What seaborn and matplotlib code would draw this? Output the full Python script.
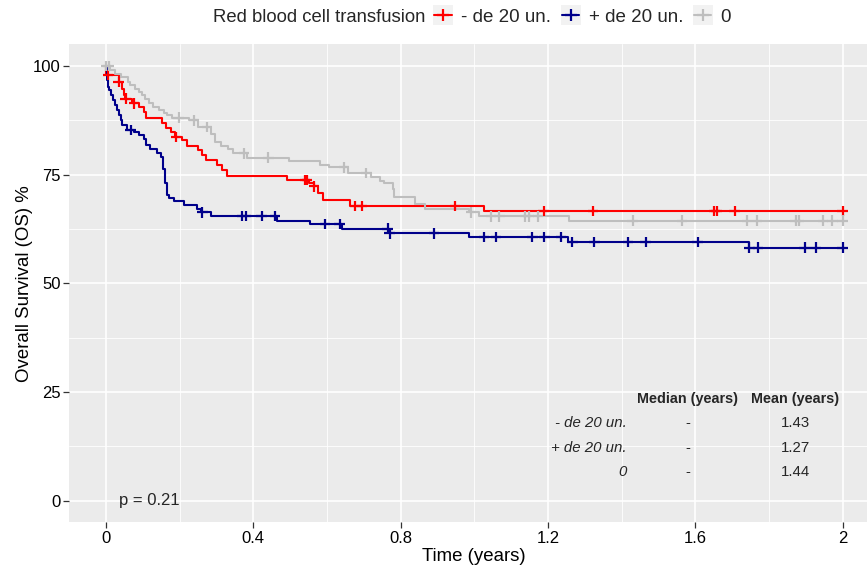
import numpy as np
import pandas as pd
import matplotlib
matplotlib.use("Agg")
import matplotlib.pyplot as plt
import seaborn as sns
from matplotlib.lines import Line2D
from matplotlib.patches import Rectangle
from matplotlib.legend_handler import HandlerBase

# ---------------- data ----------------
groups = ["- de 20 un.", "+ de 20 un.", "0"]
colors = ["#FF0000", "#00008B", "#BEBEBE"]

less_times = [0, 0.001, 0.035, 0.044, 0.049, 0.053, 0.071, 0.090, 0.103, 0.110,
              0.153, 0.162, 0.177, 0.187, 0.207, 0.221, 0.251, 0.262, 0.271, 0.302,
              0.316, 0.330, 0.493, 0.552, 0.565, 0.576, 0.590, 0.663, 1.027]
less_surv = [100, 97.9, 96.3, 94.8, 93.3, 92.5, 91.4, 90.6, 89.4, 88.1,
             86.9, 85.8, 84.8, 83.7, 82.9, 81.5, 80.6, 79.5, 78.3, 77.2,
             76.0, 74.8, 73.8, 73.0, 72.3, 70.7, 69.1, 67.8, 66.6]
less_censor = [0.006, 0.035, 0.054, 0.076, 0.190, 0.541, 0.546, 0.565, 0.677, 0.695,
               0.948, 1.188, 1.322, 1.652, 1.658, 1.707, 2.0]

more_times = [0, 0.002, 0.003, 0.005, 0.008, 0.014, 0.019, 0.024, 0.029, 0.035,
              0.040, 0.044, 0.058, 0.077, 0.090, 0.103, 0.108, 0.121, 0.138, 0.149,
              0.156, 0.160, 0.165, 0.171, 0.185, 0.212, 0.248, 0.258, 0.285, 0.465,
              0.554, 0.640, 0.768, 0.985, 1.254, 1.747]
more_surv = [100, 98.2, 96.7, 95.2, 94.4, 93.3, 92.1, 91.0, 89.8, 88.7,
             87.5, 86.4, 85.3, 84.8, 84.1, 83.1, 81.8, 80.8, 79.9, 79.1,
             76.4, 73.0, 70.3, 69.7, 68.9, 68.0, 67.2, 66.3, 65.5, 64.4,
             63.6, 62.6, 61.5, 60.7, 59.5, 58.2]
more_censor = [0.067, 0.262, 0.370, 0.380, 0.423, 0.459, 0.595, 0.635, 0.765, 0.770,
               0.891, 1.027, 1.059, 1.158, 1.190, 1.236, 1.266, 1.326, 1.417, 1.465,
               1.606, 1.747, 1.770, 1.897, 1.927, 2.0]

zero_times = [0, 0.012, 0.024, 0.040, 0.059, 0.066, 0.079, 0.090, 0.099, 0.105,
              0.118, 0.129, 0.145, 0.158, 0.167, 0.180, 0.226, 0.249, 0.285, 0.296,
              0.313, 0.332, 0.346, 0.384, 0.498, 0.582, 0.607, 0.656, 0.720, 0.743,
              0.756, 0.779, 0.783, 0.838, 0.865, 0.987, 1.014, 1.257]
zero_surv = [100, 99.0, 98.2, 97.5, 96.3, 95.6, 94.8, 94.0, 93.3, 92.5,
             91.4, 90.6, 89.8, 89.1, 88.7, 88.1, 87.5, 86.0, 84.4, 82.5,
             81.6, 80.9, 79.9, 78.9, 78.1, 77.3, 76.7, 75.4, 74.4, 73.5,
             73.0, 71.8, 69.9, 68.3, 67.2, 66.3, 65.4, 64.4]
zero_censor = [0.0, 0.008, 0.198, 0.239, 0.275, 0.375, 0.441, 0.647, 0.707, 0.991,
               1.045, 1.068, 1.139, 1.148, 1.173, 1.430, 1.564, 1.740, 1.767, 1.872,
               1.881, 1.947, 1.972, 2.0]

table_groups = ["- de 20 un.", "+ de 20 un.", "0"]
table_median = ["-", "-", "-"]
table_mean = ["1.43", "1.27", "1.44"]
p_value_text = "p = 0.21"

x_ticks = [0, 0.4, 0.8, 1.2, 1.6, 2]
x_ticklabels = ["0", "0.4", "0.8", "1.2", "1.6", "2"]
y_ticks = [0, 25, 50, 75, 100]

# ---------------- build tables ----------------
series = [(less_times, less_surv, less_censor),
          (more_times, more_surv, more_censor),
          (zero_times, zero_surv, zero_censor)]
curve_rows, cens_rows = [], []
for g, (t, s, c) in zip(groups, series):
    t = np.asarray(t, float); s = np.asarray(s, float)
    tend = max(t[-1], max(c))
    tt = np.append(t, tend); ss = np.append(s, s[-1])
    for a, b in zip(tt, ss):
        curve_rows.append((g, a, b))
    for ct in c:
        idx = np.searchsorted(t, ct, side="right") - 1
        cens_rows.append((g, ct, s[idx]))
curves = pd.DataFrame(curve_rows, columns=["group", "time", "surv"])
cens = pd.DataFrame(cens_rows, columns=["group", "time", "surv"])

# ---------------- style ----------------
sns.set_theme(style="darkgrid", rc={
    "axes.facecolor": "#EBEBEB",
    "grid.color": "white",
    "xtick.bottom": True, "ytick.left": True,
    "xtick.color": "#333333", "ytick.color": "#333333",
    "xtick.major.size": 4, "ytick.major.size": 4,
    "xtick.major.width": 0.9, "ytick.major.width": 0.9,
    "axes.labelcolor": "black",
})
plt.rcParams["font.family"] = ["Liberation Sans", "DejaVu Sans"]

fig = plt.figure(figsize=(8.67, 5.70), dpi=100)
ax = fig.add_axes([69 / 867, 47.7 / 570, 810.5 / 867, 478 / 570])

palette = dict(zip(groups, colors))
sns.lineplot(data=curves, x="time", y="surv", hue="group", hue_order=groups,
             palette=palette, drawstyle="steps-post", estimator=None,
             lw=1.5, ax=ax, legend=False)
sns.scatterplot(data=cens, x="time", y="surv", hue="group", hue_order=groups,
                palette=palette, marker="+", s=58, linewidth=1.6,
                ax=ax, legend=False, zorder=3)

ax.set_xlim(-0.1, 2.1)
ax.set_ylim(-5, 105)
ax.set_xticks(x_ticks)
ax.set_xticklabels(x_ticklabels)
ax.set_yticks(y_ticks)
ax.set_xticks([0.2, 0.6, 1.0, 1.4, 1.8], minor=True)
ax.set_yticks([12.5, 37.5, 62.5, 87.5], minor=True)
ax.grid(which="major", color="white", lw=1.2)
ax.grid(which="minor", color="white", lw=0.6)
ax.tick_params(which="minor", length=0)
ax.tick_params(which="major", labelsize=12, labelcolor="black", pad=2)
for sp in ax.spines.values():
    sp.set_visible(False)
ax.set_xlabel("Time (years)", fontsize=13.4, labelpad=2)
ax.set_ylabel("Overall Survival (OS) %", fontsize=13.4, labelpad=0)

ax.text(0.036, 0, p_value_text, fontsize=12, va="center", ha="left")

# table
hdr_y, row_ys = 23.4, [17.9, 12.1, 6.6]
ax.text(1.580, hdr_y, "Median (years)", fontsize=10.4, fontweight="bold",
        ha="center", va="center")
ax.text(1.871, hdr_y, "Mean (years)", fontsize=10.4, fontweight="bold",
        ha="center", va="center")
for g, md, mn, yy in zip(table_groups, table_median, table_mean, row_ys):
    ax.text(1.414, yy, g, fontsize=10.8, style="italic", ha="right", va="center")
    ax.text(1.580, yy, md, fontsize=10.8, ha="center", va="center")
    ax.text(1.871, yy, mn, fontsize=10.8, ha="center", va="center")


# legend
class KeyHandler(HandlerBase):
    def create_artists(self, legend, orig_handle, xdescent, ydescent,
                       width, height, fontsize, trans):
        x0, y0 = -xdescent, -ydescent
        yc = y0 + height / 2
        rect = Rectangle((x0, yc - width / 2), width, width,
                         facecolor="#F2F2F2", edgecolor="none", transform=trans)
        c = orig_handle.get_color()
        ln = Line2D([x0 + 1, x0 + width - 1], [yc, yc], color=c, lw=1.5, transform=trans)
        mk = Line2D([x0 + width / 2], [yc], marker="+", ms=8, mew=1.6,
                    color=c, linestyle="none", transform=trans)
        return [rect, ln, mk]


handles = [Line2D([], [], color=c) for c in colors]
fig.text(213 / 867, 1 - 17 / 570, "Red blood cell transfusion", fontsize=13.3,
         ha="left", va="center")
fig.legend(handles, groups, loc="center left",
           bbox_to_anchor=(433 / 867, 1 - 17 / 570), ncol=3, frameon=False,
           fontsize=13.5, handlelength=1.08, handleheight=0.8, handletextpad=0.42,
           columnspacing=0.5, borderpad=0, borderaxespad=0,
           handler_map={Line2D: KeyHandler()})

fig.savefig("out.png", dpi=100)
